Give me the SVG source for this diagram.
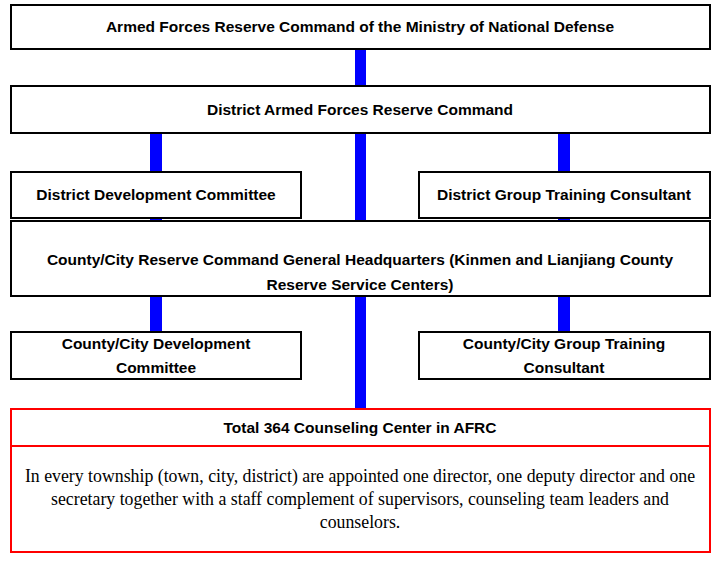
<svg xmlns="http://www.w3.org/2000/svg" width="722" height="565" viewBox="0 0 722 565">
<style>
.b{fill:#fff;stroke:#000;stroke-width:2}
.t{font-family:"Liberation Sans",Arial,sans-serif;font-weight:bold;font-size:15.5px;text-anchor:middle;fill:#000}
.s{font-family:"Liberation Serif","Times New Roman",serif;font-size:17.8px;text-anchor:middle;fill:#000}
.c{fill:#0000ff}
</style>
<rect width="722" height="565" fill="#fff"/>
<g id="connectors">
<rect class="c" x="355" y="49" width="11" height="360"/>
<rect class="c" x="150" y="133" width="12" height="200"/>
<rect class="c" x="558" y="133" width="12" height="200"/>
</g>
<g id="n1"><rect class="b" x="11" y="5" width="699" height="44"/><text class="t" x="360" y="32">Armed Forces Reserve Command of the Ministry of National Defense</text></g>
<g id="n2"><rect class="b" x="11" y="86" width="699" height="47"/><text class="t" x="360" y="115">District Armed Forces Reserve Command</text></g>
<g id="n3"><rect class="b" x="11" y="172" width="290" height="46"/><text class="t" x="156" y="200">District Development Committee</text></g>
<g id="n4"><rect class="b" x="419" y="172" width="291" height="46"/><text class="t" x="564" y="200">District Group Training Consultant</text></g>
<g id="n5"><rect class="b" x="11" y="221" width="699" height="75"/><text class="t" x="360" y="265">County/City Reserve Command General Headquarters (Kinmen and Lianjiang County</text><text class="t" x="360" y="290">Reserve Service Centers)</text></g>
<g id="n6"><rect class="b" x="11" y="332" width="290" height="47"/><text class="t" x="156" y="349">County/City Development</text><text class="t" x="156" y="373">Committee</text></g>
<g id="n7"><rect class="b" x="419" y="332" width="291" height="47"/><text class="t" x="564" y="349">County/City Group Training</text><text class="t" x="564" y="373">Consultant</text></g>
<g id="n8"><rect x="11" y="409" width="699" height="143" fill="#fff" stroke="#ff0000" stroke-width="2"/><line x1="11" y1="446" x2="710" y2="446" stroke="#ff0000" stroke-width="2"/>
<text class="t" x="360" y="433">Total 364 Counseling Center in AFRC</text>
<text class="s" x="360" y="482">In every township (town, city, district) are appointed one director, one deputy director and one</text>
<text class="s" x="360" y="505">secretary together with a staff complement of supervisors, counseling team leaders and</text>
<text class="s" x="360" y="528">counselors.</text></g>
</svg>
